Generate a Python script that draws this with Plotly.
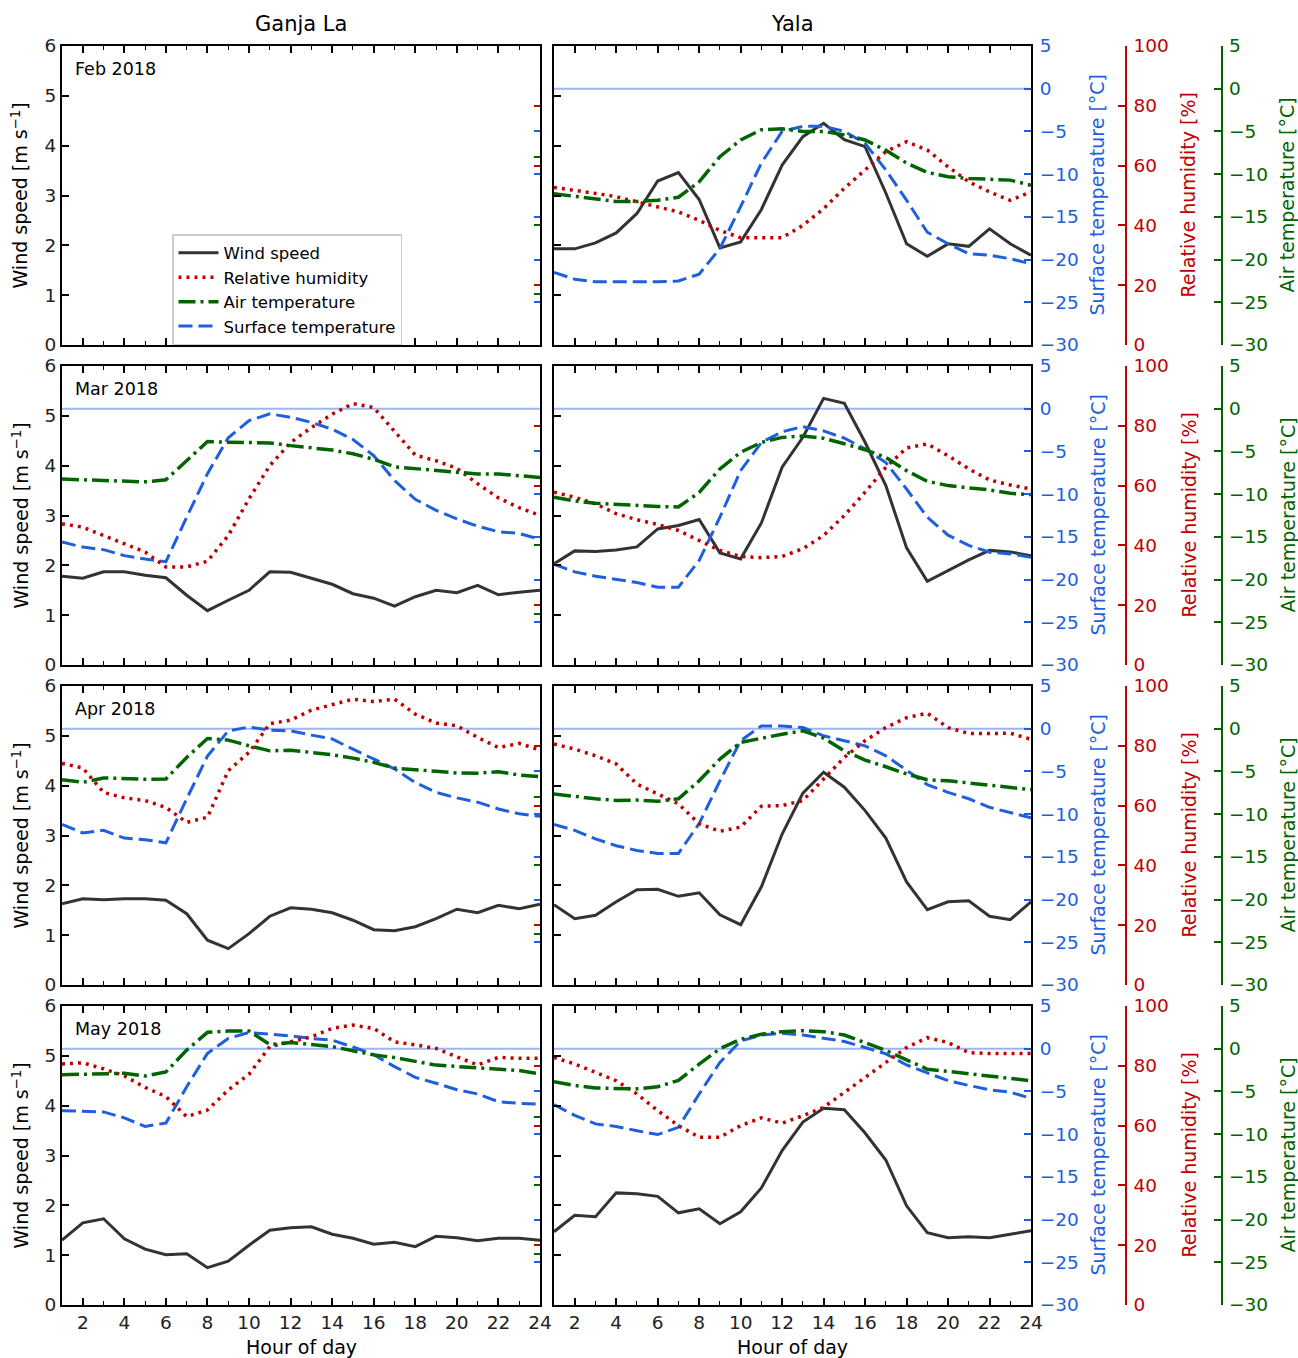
import plotly.graph_objects as go

# ---- data -------------------------------------------------------------
HOURS = list(range(1, 25))
MONTHS = ["Feb 2018", "Mar 2018", "Apr 2018", "May 2018"]
STATIONS = ["Ganja La", "Yala"]
X_TICKS = list(range(2, 25, 2))
SURF_TICKS = [-30, -25, -20, -15, -10, -5, 0, 5]
RH_TICKS = [0, 20, 40, 60, 80, 100]
AIR_TICKS = [-30, -25, -20, -15, -10, -5, 0, 5]
FREEZING_C = 0

# Ganja La: no February record
ganja_feb_wind = [None] * 24
ganja_feb_rh = [None] * 24
ganja_feb_air = [None] * 24
ganja_feb_surf = [None] * 24

ganja_mar_wind = [1.78, 1.74, 1.87, 1.87, 1.8, 1.75, 1.4, 1.09, 1.3, 1.5, 1.87, 1.86,
                  1.74, 1.62, 1.43, 1.34, 1.18, 1.37, 1.5, 1.45, 1.6, 1.41, 1.46, 1.5]
ganja_mar_rh = [47.2, 46.1, 43.3, 40.6, 37.8, 32.8, 32.8, 34.7, 43.3, 55.6, 66.7, 74.4,
                79.4, 83.9, 87.4, 86.1, 78.1, 70.2, 68.3, 65.8, 60.6, 55.9, 52.6, 50.0]
ganja_mar_air = [-10.3, -10.4, -10.4, -10.5, -10.7, -10.4, -7.6, -4.8, -4.9, -4.9, -5.0, -5.4,
                 -5.75, -6.05, -6.6, -7.4, -8.5, -8.8, -9.06, -9.3, -9.55, -9.55, -9.8, -10.05]
ganja_mar_surf = [-15.6, -16.2, -16.5, -17.2, -17.6, -17.9, -12.7, -7.6, -3.4, -1.4, -0.6, -1.0,
                  -1.6, -2.4, -3.6, -5.5, -8.4, -10.6, -11.9, -12.9, -13.75, -14.4, -14.6, -15.3]

ganja_apr_wind = [1.63, 1.73, 1.71, 1.73, 1.73, 1.7, 1.43, 0.9, 0.73, 1.03, 1.38, 1.55,
                  1.52, 1.45, 1.3, 1.11, 1.09, 1.17, 1.33, 1.52, 1.45, 1.6, 1.53, 1.62]
ganja_apr_rh = [74.1, 72.6, 64.4, 62.6, 61.7, 59.4, 54.4, 56.1, 71.7, 77.8, 87.4, 88.6,
                91.9, 93.7, 95.6, 94.8, 95.6, 90.6, 87.6, 86.7, 82.8, 79.4, 80.8, 78.6]
ganja_apr_air = [-7.46, -7.85, -7.2, -7.3, -7.4, -7.36, -4.2, -1.43, -1.67, -2.5, -3.24, -3.15,
                 -3.47, -3.8, -4.3, -4.93, -5.76, -6.05, -6.24, -6.48, -6.5, -6.3, -6.78, -7.02]
ganja_apr_surf = [-11.2, -12.2, -11.9, -12.8, -13.0, -13.35, -8.2, -3.2, -0.25, 0.2, -0.18, -0.25,
                  -0.75, -1.2, -2.4, -3.55, -4.7, -6.3, -7.45, -8.1, -8.6, -9.4, -9.96, -10.25]

ganja_may_wind = [1.3, 1.65, 1.73, 1.33, 1.12, 1.01, 1.03, 0.75, 0.88, 1.2, 1.5, 1.55,
                  1.57, 1.42, 1.34, 1.22, 1.26, 1.17, 1.38, 1.35, 1.29, 1.34, 1.34, 1.3]
ganja_may_rh = [80.6, 81.0, 79.0, 76.6, 72.8, 69.7, 63.0, 65.2, 71.9, 77.2, 86.4, 88.0,
                89.7, 92.5, 93.6, 92.5, 88.0, 87.0, 85.8, 83.0, 80.3, 82.8, 82.5, 82.5]
ganja_may_air = [-3.8, -3.7, -3.7, -3.6, -4.0, -3.4, -0.2, 2.4, 2.6, 2.6, 0.6, 0.9,
                 0.6, 0.3, -0.3, -0.9, -1.3, -1.8, -2.4, -2.6, -2.8, -3.0, -3.2, -3.7]
ganja_may_surf = [-7.25, -7.3, -7.4, -8.1, -9.1, -8.7, -4.45, -0.55, 1.2, 1.9, 1.7, 1.5,
                  1.2, 1.0, 0.2, -0.7, -2.1, -3.35, -4.05, -4.8, -5.3, -6.2, -6.4, -6.5]

# Yala
yala_feb_wind = [1.93, 1.93, 2.05, 2.25, 2.64, 3.29, 3.46, 2.92, 1.95, 2.07, 2.72, 3.61,
                 4.18, 4.45, 4.12, 3.98, 3.05, 2.03, 1.78, 2.03, 1.98, 2.33, 2.03, 1.8]
yala_feb_rh = [52.7, 51.8, 50.7, 49.6, 47.9, 46.4, 44.5, 41.7, 38.3, 35.9, 35.9, 35.9,
               40.0, 45.6, 52.4, 58.5, 64.7, 68.0, 65.2, 59.6, 54.6, 51.2, 48.4, 51.2]
yala_feb_air = [-12.3, -12.6, -12.9, -13.2, -13.2, -13.05, -12.7, -10.9, -7.95, -6.0, -4.8, -4.7,
                -5.0, -5.0, -5.4, -6.0, -7.2, -8.7, -9.8, -10.3, -10.5, -10.6, -10.7, -11.3]
yala_feb_surf = [-21.5, -22.3, -22.6, -22.6, -22.6, -22.6, -22.5, -21.7, -18.7, -13.8, -8.7, -5.0,
                 -4.4, -4.4, -5.0, -6.4, -9.5, -13.05, -16.8, -18.15, -19.3, -19.5, -19.9, -20.5]

yala_mar_wind = [2.03, 2.29, 2.28, 2.31, 2.37, 2.73, 2.8, 2.92, 2.25, 2.13, 2.85, 3.97,
                 4.57, 5.35, 5.25, 4.47, 3.6, 2.35, 1.68, 1.9, 2.11, 2.3, 2.27, 2.19]
yala_mar_rh = [57.8, 56.1, 53.9, 50.6, 48.6, 47.0, 45.0, 41.7, 38.3, 36.3, 35.9, 36.3,
               38.9, 43.3, 50.0, 57.8, 66.1, 72.6, 73.9, 70.0, 65.6, 61.9, 60.2, 58.9]
yala_mar_air = [-10.35, -10.8, -11.06, -11.2, -11.4, -11.45, -11.5, -9.8, -7.05, -5.1, -3.95, -3.36,
                -3.2, -3.45, -4.1, -4.8, -5.7, -7.25, -8.5, -9.0, -9.27, -9.5, -9.9, -10.05]
yala_mar_surf = [-18.2, -19.1, -19.6, -19.97, -20.35, -20.9, -20.9, -17.75, -12.7, -7.25, -3.95, -2.7,
                 -2.1, -2.6, -3.45, -4.7, -6.3, -9.4, -12.7, -14.8, -16.0, -16.8, -17.0, -17.4]

yala_apr_wind = [1.61, 1.33, 1.4, 1.67, 1.91, 1.92, 1.78, 1.85, 1.41, 1.21, 1.97, 3.03,
                 3.85, 4.27, 3.97, 3.5, 2.95, 2.07, 1.51, 1.67, 1.69, 1.38, 1.31, 1.67]
yala_apr_rh = [80.6, 78.9, 76.7, 73.9, 67.2, 63.9, 60.6, 53.9, 51.4, 52.8, 59.8, 60.0,
               61.7, 68.9, 76.1, 81.7, 86.1, 89.4, 90.9, 86.1, 84.1, 84.1, 84.2, 82.2]
yala_apr_air = [-7.64, -7.95, -8.2, -8.4, -8.35, -8.5, -8.2, -6.1, -3.55, -1.6, -1.1, -0.64,
                -0.25, -1.1, -2.6, -3.67, -4.45, -5.3, -5.97, -6.1, -6.35, -6.6, -6.86, -7.13]
yala_apr_surf = [-11.2, -11.9, -12.9, -13.7, -14.25, -14.6, -14.6, -11.1, -6.1, -1.4, 0.33, 0.33,
                 0.14, -0.83, -1.4, -2.0, -3.17, -4.9, -6.55, -7.45, -8.2, -9.2, -9.8, -10.44]

yala_may_wind = [1.47, 1.8, 1.77, 2.25, 2.23, 2.18, 1.85, 1.93, 1.63, 1.87, 2.35, 3.1,
                 3.67, 3.95, 3.92, 3.45, 2.91, 1.99, 1.45, 1.35, 1.37, 1.35, 1.42, 1.49]
yala_may_rh = [82.8, 80.6, 77.8, 75.0, 70.6, 65.0, 60.0, 56.1, 56.1, 60.0, 62.6, 60.8,
               63.3, 66.1, 71.1, 76.1, 81.1, 86.1, 89.4, 87.8, 84.4, 84.1, 84.1, 84.1]
yala_may_air = [-3.87, -4.3, -4.6, -4.7, -4.7, -4.45, -3.7, -1.8, 0.0, 1.1, 1.7, 2.0,
                2.1, 2.0, 1.6, 0.7, -0.2, -1.3, -2.4, -2.65, -2.9, -3.2, -3.4, -3.75]
yala_may_surf = [-6.55, -7.8, -8.8, -9.1, -9.6, -10.05, -9.2, -5.3, -1.6, 0.9, 1.6, 1.8,
                 1.6, 1.2, 0.85, 0.14, -0.6, -1.9, -2.8, -3.75, -4.3, -4.8, -5.1, -5.8]

# (wind, rh, air, surf) per panel, rows = months, columns = stations
PANELS = [
    [(ganja_feb_wind, ganja_feb_rh, ganja_feb_air, ganja_feb_surf),
     (yala_feb_wind, yala_feb_rh, yala_feb_air, yala_feb_surf)],
    [(ganja_mar_wind, ganja_mar_rh, ganja_mar_air, ganja_mar_surf),
     (yala_mar_wind, yala_mar_rh, yala_mar_air, yala_mar_surf)],
    [(ganja_apr_wind, ganja_apr_rh, ganja_apr_air, ganja_apr_surf),
     (yala_apr_wind, yala_apr_rh, yala_apr_air, yala_apr_surf)],
    [(ganja_may_wind, ganja_may_rh, ganja_may_air, ganja_may_surf),
     (yala_may_wind, yala_may_rh, yala_may_air, yala_may_surf)],
]

# ---- styling ----------------------------------------------------------
W, H = 1298, 1358
FONT = "DejaVu Sans"
C_WIND = "#333333"
C_RH = "#c00000"
C_AIR = "#006400"
C_SURF = "#1f5fdc"
C_FREEZE = "#9cb6f4"

LINE_WIND = dict(color=C_WIND, width=3)
LINE_RH = dict(color=C_RH, width=3.5, dash="3px,5px")
LINE_AIR = dict(color=C_AIR, width=3.5, dash="17px,5px,3px,5px")
LINE_SURF = dict(color=C_SURF, width=3, dash="14px,6px")

COL_X = [(62, 540), (554, 1031)]          # pixel extents of the columns
ROW_Y = [(46, 345), (366, 665), (686, 985), (1006, 1305)]
RH_AXIS_X = 1126
AIR_AXIS_X = 1221.5
AIR_RANGE_LEFT = [-37.5, 6.25]
TICK_SIZE = 18.5


def px(x):
    return x / W


def py(y):
    return 1 - y / H


def name(kind, n):
    return kind if n == 1 else f"{kind}{n}"


def ref(kind, n):
    return kind if n == 1 else f"{kind}{n}"


fig = go.Figure()
layout = {}
annotations = []
shapes = []
TICKFONT = dict(family=FONT, size=TICK_SIZE, color="#222222")

for r in range(4):
    for c in range(2):
        p = r * 2 + c
        xn = p + 1
        yw, ys, yr, ya = 4 * p + 1, 4 * p + 2, 4 * p + 3, 4 * p + 4
        xd = [px(COL_X[c][0]), px(COL_X[c][1])]
        yd = [py(ROW_Y[r][1]), py(ROW_Y[r][0])]

        layout[name("xaxis", xn)] = dict(
            domain=xd, anchor=ref("y", yw), range=[1, 24], automargin=False,
            tickvals=X_TICKS, ticks="inside", ticklen=7, tickwidth=1.5, tickcolor="black",
            minor=dict(dtick=1, tick0=1, ticks="inside", ticklen=4, tickwidth=1.3,
                       tickcolor="black"),
            showline=True, linewidth=2, linecolor="black", mirror="ticks",
            showgrid=False, zeroline=False, showticklabels=(r == 3), tickfont=TICKFONT,
        )
        layout[name("yaxis", yw)] = dict(
            domain=yd, anchor=ref("x", xn), range=[0, 6], dtick=1, automargin=False,
            ticks="inside", ticklen=7, tickwidth=1.5, tickcolor="black",
            showline=True, linewidth=2, linecolor="black",
            showgrid=False, zeroline=False, showticklabels=(c == 0), tickfont=TICKFONT,
        )
        common = dict(overlaying=ref("y", yw), side="right", showgrid=False,
                      zeroline=False, ticks="inside", tickwidth=1.5, automargin=False)
        if c == 1:
            layout[name("yaxis", ys)] = dict(
                common, anchor=ref("x", xn), range=[-30, 5], tickvals=SURF_TICKS,
                ticklen=7, tickcolor=C_SURF, showline=True, linewidth=2, linecolor="black",
                ticklabelstandoff=3,
                tickfont=dict(family=FONT, size=TICK_SIZE, color=C_SURF),
            )
            layout[name("yaxis", yr)] = dict(
                common, anchor="free", position=px(RH_AXIS_X), range=[0, 100],
                tickvals=RH_TICKS, ticklen=7, tickcolor=C_RH, showline=True,
                linewidth=1.5, linecolor=C_RH, ticklabelstandoff=3,
                tickfont=dict(family=FONT, size=TICK_SIZE, color=C_RH),
            )
            layout[name("yaxis", ya)] = dict(
                common, anchor="free", position=px(AIR_AXIS_X), range=[-30, 5],
                tickvals=AIR_TICKS, ticklen=7, tickcolor=C_AIR, showline=True,
                linewidth=1.5, linecolor=C_AIR, ticklabelstandoff=3,
                tickfont=dict(family=FONT, size=TICK_SIZE, color=C_AIR),
            )
        else:
            layout[name("yaxis", ys)] = dict(
                common, anchor=ref("x", xn), range=[-30, 5], tickvals=SURF_TICKS[1:-2],
                ticklen=6, tickcolor=C_SURF, showline=True, linewidth=2, linecolor="black",
                showticklabels=False,
            )
            layout[name("yaxis", yr)] = dict(
                common, anchor=ref("x", xn), range=[0, 100], tickvals=[20, 60, 80],
                ticklen=6, tickcolor=C_RH, showline=False, showticklabels=False,
            )
            layout[name("yaxis", ya)] = dict(
                common, anchor=ref("x", xn), range=AIR_RANGE_LEFT, tickvals=[-30, -20, -10],
                ticklen=6, tickcolor=C_AIR, showline=False, showticklabels=False,
            )

        wind, rh, air, surf = PANELS[r][c]
        if any(v is not None for v in surf):
            # freezing level on the surface temperature scale
            shapes.append(dict(type="line", xref=f"{ref('x', xn)} domain", x0=0, x1=1,
                               yref=ref("y", ys), y0=FREEZING_C, y1=FREEZING_C,
                               line=dict(color=C_FREEZE, width=2), layer="below"))
        show = (r == 0 and c == 1)
        fig.add_trace(go.Scatter(x=HOURS, y=wind, mode="lines", line=LINE_WIND,
                                 name="Wind speed", showlegend=show, legendrank=1,
                                 xaxis=ref("x", xn), yaxis=ref("y", yw)))
        fig.add_trace(go.Scatter(x=HOURS, y=surf, mode="lines", line=LINE_SURF,
                                 name="Surface temperature", showlegend=show, legendrank=4,
                                 xaxis=ref("x", xn), yaxis=ref("y", ys)))
        fig.add_trace(go.Scatter(x=HOURS, y=rh, mode="lines", line=LINE_RH,
                                 name="Relative humidity", showlegend=show, legendrank=2,
                                 xaxis=ref("x", xn), yaxis=ref("y", yr)))
        fig.add_trace(go.Scatter(x=HOURS, y=air, mode="lines", line=LINE_AIR,
                                 name="Air temperature", showlegend=show, legendrank=3,
                                 xaxis=ref("x", xn), yaxis=ref("y", ya)))

        if c == 0:
            # month label inside the left panel
            annotations.append(dict(text=MONTHS[r], x=px(COL_X[c][0] + 11),
                                    y=py(ROW_Y[r][0] + 23), xref="paper", yref="paper",
                                    xanchor="left", yanchor="middle", showarrow=False,
                                    font=dict(family=FONT, size=17.5, color="black")))

    yc = (ROW_Y[r][0] + ROW_Y[r][1]) / 2
    annotations.append(dict(text="Wind speed [m s<sup>\u22121</sup>]", x=px(20), y=py(yc),
                            textangle=-90, showarrow=False, xref="paper", yref="paper",
                            xanchor="center", yanchor="middle",
                            font=dict(family=FONT, size=19, color="black")))
    for txt, xpos, col in [("Surface temperature [\u00b0C]", 1097, C_SURF),
                           ("Relative humidity [%]", 1188, C_RH),
                           ("Air temperature [\u00b0C]", 1287, C_AIR)]:
        annotations.append(dict(text=txt, x=px(xpos), y=py(yc), textangle=-90,
                                showarrow=False, xref="paper", yref="paper",
                                xanchor="center", yanchor="middle",
                                font=dict(family=FONT, size=19, color=col)))

for c, st in enumerate(STATIONS):
    xc = (COL_X[c][0] + COL_X[c][1]) / 2
    annotations.append(dict(text=st, x=px(xc), y=py(24), xref="paper", yref="paper",
                            showarrow=False, xanchor="center", yanchor="middle",
                            font=dict(family=FONT, size=21, color="black")))
    annotations.append(dict(text="Hour of day", x=px(xc), y=py(1347), xref="paper",
                            yref="paper", showarrow=False, xanchor="center", yanchor="middle",
                            font=dict(family=FONT, size=19, color="black")))

fig.update_layout(
    width=W, height=H, autosize=False, margin=dict(l=0, r=0, t=0, b=0, pad=0),
    paper_bgcolor="white", plot_bgcolor="white",
    font=dict(family=FONT, size=18, color="black"),
    showlegend=True,
    legend=dict(x=px(172), y=py(234), xanchor="left", yanchor="top",
                bgcolor="white", bordercolor="#cccccc", borderwidth=1.5,
                font=dict(family=FONT, size=16.5, color="black"),
                tracegroupgap=0, itemwidth=40),
    annotations=annotations, shapes=shapes,
    **layout,
)

fig.write_html("out.html", config={"responsive": False})
